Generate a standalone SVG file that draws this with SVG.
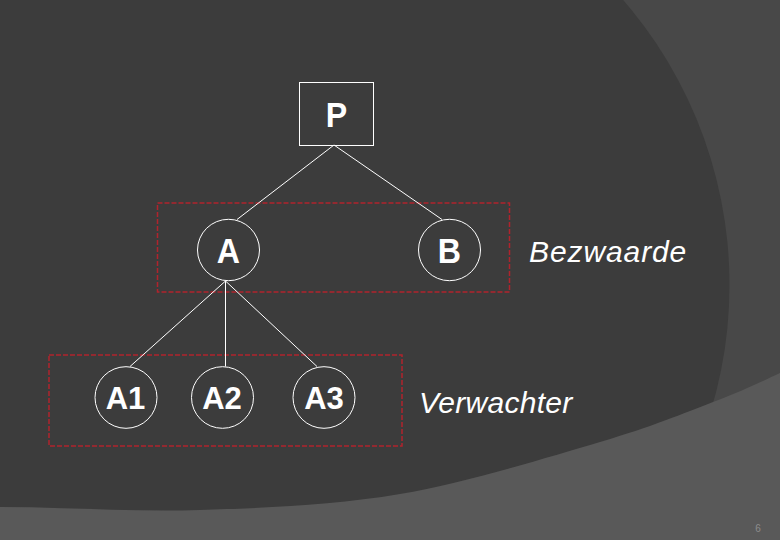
<svg xmlns="http://www.w3.org/2000/svg" width="780" height="540" viewBox="0 0 780 540">
<style>
.node{fill:none;stroke:#ffffff;stroke-width:1}
.lbl{font-family:"Liberation Sans",Arial,sans-serif;font-weight:bold;fill:#ffffff;text-anchor:middle}
.grp{fill:none;stroke:#b0232c;stroke-width:1.5;stroke-dasharray:5 2}
.cap{font-family:"Liberation Sans",Arial,sans-serif;font-style:italic;fill:#ffffff;font-size:30px}
#connectors line{stroke:#ffffff;stroke-width:1}
</style>
<g id="background">
<rect x="0" y="0" width="780" height="540" fill="#484848"/>
<circle cx="294.5" cy="285" r="435" fill="#3c3c3c"/>
<path d="M0,507 C66.7,507 133.3,512.2 200,510 C266.7,507.8 333.3,505.3 400,494 C466.7,482.7 547.8,457.3 600,442 C652.2,426.7 683,413.5 713,402 C743,390.5 757.2,383.7 780,373 L780,540 L0,540 Z" fill="#595959"/>
</g>
<g id="groups">
<rect class="grp" x="157.5" y="203" width="352" height="89"/>
<rect class="grp" x="49" y="355" width="353" height="91"/>
</g>
<g id="connectors">
<line x1="334" y1="145" x2="237" y2="219.5"/>
<line x1="334" y1="145" x2="442" y2="219.5"/>
<line x1="225.5" y1="281" x2="130" y2="366.5"/>
<line x1="225.5" y1="281" x2="225.5" y2="366.5"/>
<line x1="225.5" y1="281" x2="317" y2="366.5"/>
</g>
<g id="P"><rect class="node" x="299.5" y="82.5" width="74" height="63"/><text class="lbl" x="336.5" y="127" font-size="35" transform="translate(336.5 0) scale(0.92 1) translate(-336.5 0)">P</text></g>
<g id="A"><ellipse class="node" cx="228.5" cy="250" rx="31" ry="30.7"/><text class="lbl" x="228.5" y="263" font-size="35" transform="translate(228.5 0) scale(0.92 1) translate(-228.5 0)">A</text></g>
<g id="B"><ellipse class="node" cx="449.5" cy="250" rx="31" ry="30.7"/><text class="lbl" x="449.5" y="263" font-size="35" transform="translate(449.5 0) scale(0.92 1) translate(-449.5 0)">B</text></g>
<g id="A1"><ellipse class="node" cx="126" cy="397.5" rx="31" ry="30.8"/><text class="lbl" x="125.5" y="409" font-size="31">A1</text></g>
<g id="A2"><ellipse class="node" cx="222.5" cy="397.5" rx="31" ry="30.8"/><text class="lbl" x="222" y="409" font-size="31">A2</text></g>
<g id="A3"><ellipse class="node" cx="324" cy="397.5" rx="31" ry="30.8"/><text class="lbl" x="324" y="409" font-size="31">A3</text></g>
<g id="captions">
<text class="cap" x="529" y="262" letter-spacing="0.9">Bezwaarde</text>
<text class="cap" x="419" y="413" font-size="31" letter-spacing="0.3">Verwachter</text>
<text x="758" y="532" font-family="'Liberation Sans',Arial,sans-serif" font-size="10" fill="#8c8c8c" text-anchor="middle">6</text>
</g>
</svg>
